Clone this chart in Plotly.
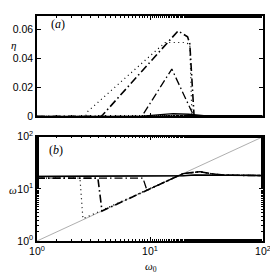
import plotly.graph_objects as go
from plotly.subplots import make_subplots

# ---- data ----
# panel (a): eta vs omega0
a_dot_x = [1, 2.7, 2.77, 13.6, 20.0, 22.5, 23.5, 100]
a_dot_y = [0, 0, 0.003, 0.051, 0.051, 0.050, 0.0, 0]
a_dd1_x = [1, 3.7, 3.84, 17.7, 21.5, 22.5, 24.5, 25, 100]
a_dd1_y = [0, 0, 0.0013, 0.059, 0.055, 0.050, 0.0013, 0, 0]
a_dd2_x = [1, 8.5, 8.67, 15.6, 23.5, 24.5, 100]
a_dd2_y = [0, 0, 0.0013, 0.0327, 0.003, 0, 0]
a_s1_x = [1, 8, 16, 22, 35, 100]
a_s1_y = [0, 0, 0.002, 0.0015, 0, 0]
a_s2_x = [1, 10, 17, 30, 100]
a_s2_y = [0, 0, 0.001, 0.0003, 0]

# panel (b): omega vs omega0
diag_x = [1, 100]
diag_y = [1, 100]
b_dot_x = [1, 2.4, 2.55, 19.6, 25, 27.7, 35, 45, 100]
b_dot_y = [16, 16, 2.67, 19.6, 20.8, 21.3, 19.5, 18.3, 18.0]
b_dd1_x = [1, 3.46, 3.76, 19.6, 25, 27.7, 35, 45, 100]
b_dd1_y = [16, 16, 3.76, 19.6, 20.8, 21.3, 19.5, 18.3, 18.0]
b_dd2_x = [1, 8.67, 9.4, 19.6, 25, 27.7, 35, 45, 100]
b_dd2_y = [16, 16, 9.4, 19.6, 20.8, 21.3, 19.5, 18.3, 18.0]
b_s1_x = [1, 15, 19.6, 25, 40, 100]
b_s1_y = [17.2, 17.3, 17.8, 18.4, 18.2, 18.0]
b_s2_x = [1, 15, 19.6, 25, 40, 100]
b_s2_y = [17.4, 17.5, 17.9, 18.3, 18.1, 17.9]

yticks_a = [0, 0.02, 0.04, 0.06]
yticks_a_txt = ["0", "0.02", "0.04", "0.06"]
logticks = [1, 10, 100]
logticks_txt = ["10<sup>0</sup>", "10<sup>1</sup>", "10<sup>2</sup>"]

# the page body adds an 8px offset; work in window pixels and convert
OFF = 8
W, H = 270, 270
ML, MR, MT, MB = 37 - OFF, 15, 0, 37
PW, PH = W - ML - MR, H - MT - MB

def px(x):
    return (x - OFF - ML) / PW

def py(y):
    return (H - MB - (y - OFF)) / PH

fig = make_subplots(rows=2, cols=1)

DOT = "1px,3.5px"
DD = "8px,3px,1.5px,3px"

def add(row, x, y, dash, width, color="black"):
    fig.add_trace(go.Scatter(x=x, y=y, mode="lines",
                             line=dict(color=color, dash=dash, width=width),
                             showlegend=False, hoverinfo="skip"), row=row, col=1)

add(1, a_s2_x, a_s2_y, "solid", 0.8)
add(1, a_s1_x, a_s1_y, "solid", 1.3)
add(1, a_dot_x, a_dot_y, DOT, 1.2)
add(1, a_dd1_x, a_dd1_y, DD, 1.6)
add(1, a_dd2_x, a_dd2_y, DD, 1.3)

add(2, diag_x, diag_y, "solid", 0.8, "#999999")
add(2, b_s2_x, b_s2_y, "solid", 0.8)
add(2, b_s1_x, b_s1_y, "solid", 1.5)
add(2, b_dot_x, b_dot_y, DOT, 1.2)
add(2, b_dd1_x, b_dd1_y, DD, 1.6)
add(2, b_dd2_x, b_dd2_y, DD, 1.3)

tickfont = dict(family="Liberation Sans, Arial", size=10.5, color="black")
common = dict(showline=True, linecolor="black", linewidth=1.5, mirror="ticks",
              ticks="inside", ticklen=4, tickcolor="black", showgrid=False,
              zeroline=False, tickfont=tickfont)
minor = dict(ticks="inside", ticklen=2, tickcolor="black", showgrid=False)

fig.update_xaxes(type="log", range=[0, 2], tickvals=logticks, ticktext=logticks_txt,
                 minor=minor, **common)
fig.update_xaxes(showticklabels=False, row=1, col=1)
fig.update_yaxes(range=[0, 0.0693], tickvals=yticks_a, ticktext=yticks_a_txt,
                 row=1, col=1, **common)
fig.update_yaxes(type="log", range=[0, 2], tickvals=logticks, ticktext=logticks_txt,
                 minor=minor, row=2, col=1, **common)

top_lo = py(112)
bot_hi = py(133)
fig.update_layout(
    width=W, height=H,
    margin=dict(l=ML, r=MR, t=MT, b=MB, pad=0),
    plot_bgcolor="white", paper_bgcolor="white",
    xaxis=dict(domain=[0, 1]), yaxis=dict(domain=[top_lo, 1]),
    xaxis2=dict(domain=[0, 1]), yaxis2=dict(domain=[0, bot_hi]),
)

serif = dict(family="Liberation Serif, Times New Roman", size=12, color="black")
def ann(x, y, text, size=12):
    fig.add_annotation(x=px(x), y=py(y), xref="paper", yref="paper", text=text,
                       showarrow=False, font=dict(serif, size=size),
                       xanchor="center", yanchor="middle")

ann(13, 38, "<i>η</i>", 11)
ann(13, 188, "<i>ω</i>", 11)
ann(151, 268, "<i>ω</i><sub>0</sub>", 11)
ann(58, 16, "(<i>a</i>)", 12)
ann(56, 147, "(<i>b</i>)", 12)

fig.write_html("out.html")
